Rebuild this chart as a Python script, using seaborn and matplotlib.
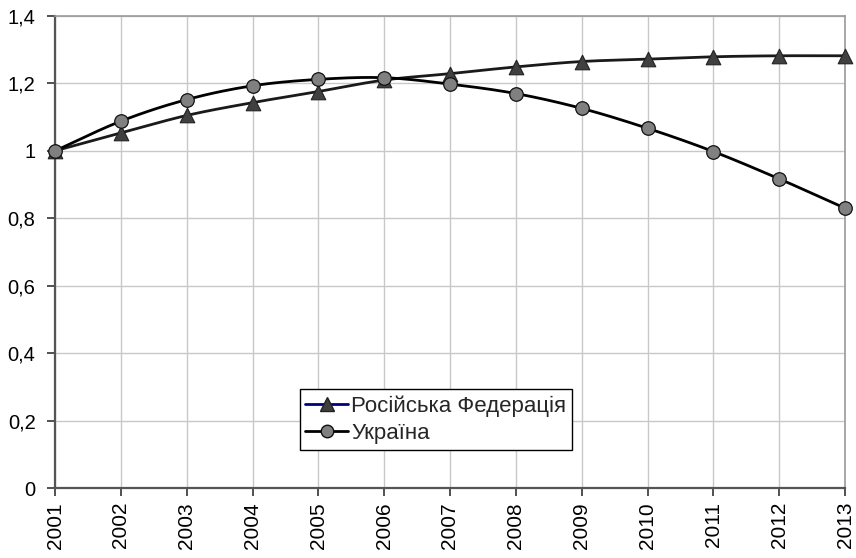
import numpy as np
import pandas as pd
import matplotlib
matplotlib.use("Agg")
import matplotlib.pyplot as plt
import seaborn as sns
from matplotlib.lines import Line2D

years = [2001, 2002, 2003, 2004, 2005, 2006, 2007, 2008, 2009, 2010, 2011, 2012, 2013]
russia = [1.0, 1.053, 1.105, 1.143, 1.176, 1.210, 1.229, 1.249, 1.265, 1.272, 1.279, 1.282, 1.282]
ukraine = [1.0, 1.088, 1.152, 1.193, 1.212, 1.217, 1.198, 1.170, 1.126, 1.067, 0.998, 0.917, 0.830]
series_names = ["Російська Федерація", "Україна"]
y_ticks = [0, 0.2, 0.4, 0.6, 0.8, 1.0, 1.2, 1.4]
y_tick_labels = ["0", "0,2", "0,4", "0,6", "0,8", "1", "1,2", "1,4"]


def smooth(xs, ys, steps=20):
    """Catmull-Rom spline through the points (smoothed line)."""
    xs = np.asarray(xs, float)
    ys = np.asarray(ys, float)
    px = np.concatenate([[2 * xs[0] - xs[1]], xs, [2 * xs[-1] - xs[-2]]])
    py = np.concatenate([[2 * ys[0] - ys[1]], ys, [2 * ys[-1] - ys[-2]]])
    out_x, out_y = [], []
    t = np.linspace(0, 1, steps, endpoint=False)
    for i in range(1, len(px) - 2):
        for p, out in ((px, out_x), (py, out_y)):
            p0, p1, p2, p3 = p[i - 1], p[i], p[i + 1], p[i + 2]
            out.extend(0.5 * ((2 * p1) + (-p0 + p2) * t
                              + (2 * p0 - 5 * p1 + 4 * p2 - p3) * t ** 2
                              + (-p0 + 3 * p1 - 3 * p2 + p3) * t ** 3))
    out_x.append(xs[-1])
    out_y.append(ys[-1])
    return np.array(out_x), np.array(out_y)


sns.set_theme(style="white")
plt.rcParams["font.family"] = ["Liberation Sans", "DejaVu Sans"]

fig = plt.figure(figsize=(8.56, 5.58), dpi=100)
ax = fig.add_axes([55 / 856, 1 - 488 / 558, 790 / 856, 472 / 558])

ru_sx, ru_sy = smooth(years, russia)
ua_sx, ua_sy = smooth(years, ukraine)
sns.lineplot(x=ru_sx, y=ru_sy, sort=False, ax=ax, color="#1a1a1a", lw=2.0, zorder=3)
sns.lineplot(x=ua_sx, y=ua_sy, sort=False, ax=ax, color="#000000", lw=2.0, zorder=3)

df = pd.DataFrame({"year": years, "ru": russia, "ua": ukraine})
sns.scatterplot(data=df, x="year", y="ru", marker="^", s=110, color="#404040",
                edgecolor="#222222", linewidth=0.8, ax=ax, zorder=4, clip_on=False)
sns.scatterplot(data=df, x="year", y="ua", marker="o", s=95, color="#808080",
                edgecolor="#111111", linewidth=0.9, ax=ax, zorder=5, clip_on=False)

ax.set_xlim(2001, 2013)
ax.set_ylim(0, 1.4)
ax.set_xticks(years)
ax.set_xticklabels([str(y) for y in years], rotation=90, fontsize=15)
ax.set_yticks(y_ticks)
ax.set_yticklabels(y_tick_labels, fontsize=14.5)
ax.set_xlabel("")
ax.set_ylabel("")

ax.grid(True, color="#c8c8c8", lw=1.0)
ax.set_axisbelow(True)
for side in ("left", "bottom"):
    ax.spines[side].set_color("#555555")
    ax.spines[side].set_linewidth(1.6)
for side in ("top", "right"):
    ax.spines[side].set_color("#9a9a9a")
    ax.spines[side].set_linewidth(1.2)
ax.tick_params(axis="both", which="both", length=6, width=1.2, color="#333333",
               direction="out", left=True, bottom=True, labelcolor="#000000")
ax.tick_params(axis="y", pad=8)
ax.tick_params(axis="x", pad=4)

handles = [
    Line2D([0], [0], color="#000080", lw=2, marker="^", markersize=10,
           markerfacecolor="#404040", markeredgecolor="#222222"),
    Line2D([0], [0], color="#000000", lw=2, marker="o", markersize=9,
           markerfacecolor="#808080", markeredgecolor="#111111"),
]
leg = ax.legend(handles, series_names, loc="lower left",
                bbox_to_anchor=(0.31, 0.081), fontsize=16, frameon=True,
                fancybox=False, edgecolor="#000000", framealpha=1,
                handlelength=1.9, handletextpad=0.15, borderpad=0.25,
                labelspacing=0.3, borderaxespad=0)
leg.get_frame().set_linewidth(1.0)

fig.savefig("out.png", dpi=100)
